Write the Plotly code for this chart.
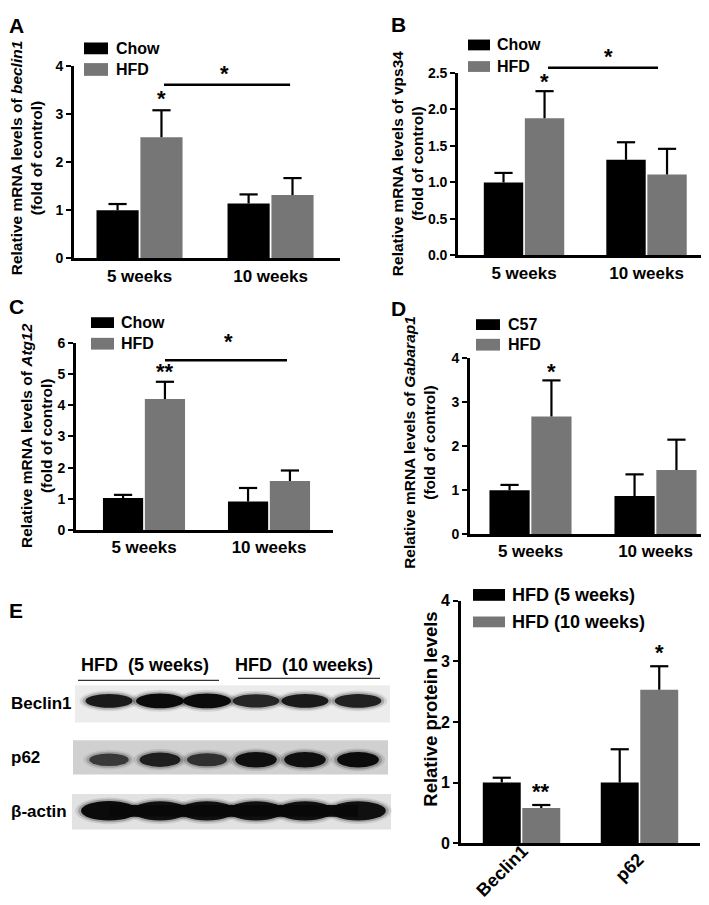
import plotly.graph_objects as go

W, H = 709, 905
FONT = "Liberation Sans, Arial, Helvetica, sans-serif"
BLACK = "#000000"
GRAY = "#767676"

# ---------------- data ----------------
time_points = ["5 weeks", "10 weeks"]
name_chow = "Chow"
name_c57 = "C57"
name_hfd = "HFD"

beclin1_chow = [1.00, 1.14]
beclin1_chow_sem = [0.13, 0.19]
beclin1_hfd = [2.52, 1.32]
beclin1_hfd_sem = [0.56, 0.35]

vps34_chow = [1.00, 1.31]
vps34_chow_sem = [0.13, 0.24]
vps34_hfd = [1.88, 1.11]
vps34_hfd_sem = [0.37, 0.35]

atg12_chow = [1.03, 0.92]
atg12_chow_sem = [0.10, 0.43]
atg12_hfd = [4.20, 1.57]
atg12_hfd_sem = [0.55, 0.34]

gabarap1_c57 = [1.00, 0.87]
gabarap1_c57_sem = [0.12, 0.49]
gabarap1_hfd = [2.68, 1.46]
gabarap1_hfd_sem = [0.82, 0.69]

proteins = ["Beclin1", "p62"]
protein_groups = ["HFD (5 weeks)", "HFD (10 weeks)"]
protein_5w = [1.00, 1.00]
protein_5w_sem = [0.08, 0.55]
protein_10w = [0.58, 2.53]
protein_10w_sem = [0.05, 0.39]

blot_rows = ["Beclin1", "p62", "β-actin"]
blot_headers = ["HFD  (5 weeks)", "HFD  (10 weeks)"]
beclin1_band = [0.85, 1.0, 1.0, 0.75, 0.85, 0.8]
p62_band = [0.5, 0.8, 0.6, 0.95, 0.95, 1.0]
actin_band = [1.0, 0.95, 0.95, 0.95, 0.95, 0.95]

# ---------------- layout geometry (pixels) ----------------
panels = {
    "A": dict(ax="", x0=66, x1=332, y0=51, y1=247, ymax=4, dtick=1, xr=(-0.5, 1.53), fmt=""),
    "B": dict(ax="2", x0=450, x1=701, y0=58, y1=244, ymax=2.5, dtick=0.5, xr=(-0.539, 1.51), fmt=".1f"),
    "C": dict(ax="3", x0=68, x1=325, y0=333, y1=524, ymax=6, dtick=1, xr=(-0.544, 1.512), fmt=""),
    "D": dict(ax="4", x0=462, x1=707, y0=349, y1=528, ymax=4, dtick=1, xr=(-0.484, 1.476), fmt=""),
    "E": dict(ax="5", x0=453, x1=692, y0=596, y1=843, ymax=4, dtick=1, xr=(-0.513, 1.513), fmt=""),
}
BARGAP, GROUPGAP = 0.33, 0.04
HFD_OFF = (1 - BARGAP) / 4   # centre offset of each bar within its group


def px(xp):
    return xp / W


def py(yp):
    return 1 - yp / H


def data2paper(p, xv, yv):
    P = panels[p]
    xpx = P["x0"] + (xv - P["xr"][0]) / (P["xr"][1] - P["xr"][0]) * (P["x1"] - P["x0"])
    ypx = P["y1"] - yv / P["ymax"] * (P["y1"] - P["y0"])
    return px(xpx), py(ypx)


fig = go.Figure()


def add_pair(p, n_cat, v1, e1, n1, v2, e2, n2):
    ax = panels[p]["ax"]
    xs = list(range(n_cat))
    for vals, errs, name, col, sgn in ((v1, e1, n1, BLACK, -1), (v2, e2, n2, GRAY, 1)):
        fig.add_trace(go.Bar(
            x=xs, y=vals, name=name, marker=dict(color=col, line=dict(width=0)),
            xaxis="x" + ax, yaxis="y" + ax, showlegend=False,
        ))
        # one-sided (upper) error bars
        lx, ly = [], []
        for i, (v, e) in enumerate(zip(vals, errs)):
            lx += [i + sgn * HFD_OFF, i + sgn * HFD_OFF, None]
            ly += [v, v + e, None]
        fig.add_trace(go.Scatter(
            x=lx, y=ly, mode="lines", line=dict(color=BLACK, width=2.2),
            xaxis="x" + ax, yaxis="y" + ax, showlegend=False, hoverinfo="skip", cliponaxis=False,
        ))
        fig.add_trace(go.Scatter(
            x=[i + sgn * HFD_OFF for i in xs], y=[v + e for v, e in zip(vals, errs)], mode="markers",
            marker=dict(symbol="line-ew", size=13, line=dict(color=BLACK, width=2.2)),
            xaxis="x" + ax, yaxis="y" + ax, showlegend=False, hoverinfo="skip", cliponaxis=False,
        ))


add_pair("A", len(time_points), beclin1_chow, beclin1_chow_sem, name_chow, beclin1_hfd, beclin1_hfd_sem, name_hfd)
add_pair("B", len(time_points), vps34_chow, vps34_chow_sem, name_chow, vps34_hfd, vps34_hfd_sem, name_hfd)
add_pair("C", len(time_points), atg12_chow, atg12_chow_sem, name_chow, atg12_hfd, atg12_hfd_sem, name_hfd)
add_pair("D", len(time_points), gabarap1_c57, gabarap1_c57_sem, name_c57, gabarap1_hfd, gabarap1_hfd_sem, name_hfd)
add_pair("E", len(proteins), protein_5w, protein_5w_sem, protein_groups[0], protein_10w, protein_10w_sem, protein_groups[1])

layout = dict(
    width=W, height=H, margin=dict(l=0, r=0, t=0, b=0),
    paper_bgcolor="white", plot_bgcolor="rgba(0,0,0,0)",
    barmode="group", bargap=BARGAP, bargroupgap=GROUPGAP,
    font=dict(family=FONT, color=BLACK),
    showlegend=False,
)

for p, P in panels.items():
    ax = P["ax"]
    cats = proteins if p == "E" else time_points
    layout["xaxis" + ax] = dict(
        domain=[px(P["x0"]), px(P["x1"])], anchor="y" + ax, range=list(P["xr"]),
        tickvals=list(range(len(cats))), ticktext=cats, showticklabels=(p != "E"),
        showline=True, linewidth=2.6, linecolor=BLACK, ticks="", showgrid=False, zeroline=False,
        tickfont=dict(size=17, family=FONT, weight="bold", color=BLACK),
        tickangle=0, fixedrange=True,
    )
    layout["yaxis" + ax] = dict(
        domain=[py(P["y1"]), py(P["y0"])], anchor="x" + ax, range=[0, P["ymax"]],
        dtick=P["dtick"], tick0=0, tickformat=P["fmt"],
        showline=True, linewidth=2.6, linecolor=BLACK, ticks="outside", ticklen=5, tickwidth=2,
        tickcolor=BLACK, showgrid=False, zeroline=False,
        tickfont=dict(size=14 if p != "E" else 16, family=FONT, weight="bold", color=BLACK),
        fixedrange=True,
    )

annotations = []
shapes = []


def text(x, y, s, size, xanchor="center", yanchor="middle", angle=0):
    annotations.append(dict(
        x=px(x), y=py(y), xref="paper", yref="paper", text=s, showarrow=False,
        xanchor=xanchor, yanchor=yanchor, textangle=angle,
        font=dict(family=FONT, size=size, weight="bold", color=BLACK),
    ))


# panel letters
for letter, (lx, ly) in {"A": (-1, 10), "B": (381, 9), "C": (-1, 296), "D": (381, 298), "E": (-1, 606)}.items():
    text(lx, ly, letter, 21, xanchor="left")

# y-axis titles
text(18, 145, "Relative mRNA levels of <i>beclin1</i><br>(fold of control)", 15.5, angle=-90)
text(399, 150, "Relative mRNA levels of vps34<br>(fold of control)", 15.5, angle=-90)
text(29, 428, "Relative mRNA levels of <i>Atg12</i><br>(fold of control)", 15.5, angle=-90)
text(412, 435, "Relative mRNA levels of <i>Gabarap1</i><br>(fold of control)", 15.5, angle=-90)
text(423, 707, "Relative protein levels", 18.5, angle=-90)

# rotated category labels of panel E (placed as text rotated by 45 degrees)
for name, (cx, cy) in zip(proteins, [(494, 871), (621, 868)]):
    text(cx, cy, name, 18, angle=-45)

# legends (boxes + labels)
legend_spec = [
    ((76, 100, 27, 39), (76, 100, 48, 61), 106, name_chow, name_hfd, 16),
    ((460, 482, 24, 35), (460, 482, 46, 57), 487, name_chow, name_hfd, 16),
    ((83, 106, 307, 318), (83, 106, 328, 340), 111, name_chow, name_hfd, 16),
    ((468, 492, 309, 320), (468, 492, 329, 341), 498, name_c57, name_hfd, 16),
    ((465, 497, 584, 596), (465, 497, 612, 623), 502, protein_groups[0], protein_groups[1], 18),
]
for b1, b2, tx, n1, n2, fs in legend_spec:
    for (bx0, bx1, by0, by1), col, nm in ((b1, BLACK, n1), (b2, GRAY, n2)):
        shapes.append(dict(type="rect", xref="paper", yref="paper", x0=px(bx0), x1=px(bx1),
                           y0=py(by1), y1=py(by0), fillcolor=col, line=dict(width=0)))
        text(tx, (by0 + by1) / 2, nm, fs, xanchor="left")


def star(p, xv, yv, s, size=22):
    xp, yp = data2paper(p, xv, yv)
    annotations.append(dict(x=xp, y=yp, xref="paper", yref="paper", text=s, showarrow=False,
                            xanchor="center", yanchor="middle", yshift=1,
                            font=dict(family=FONT, size=size, weight="bold", color=BLACK)))


def sigline(p, xa, xb, yv):
    xa_p, yp = data2paper(p, xa, yv)
    xb_p, _ = data2paper(p, xb, yv)
    shapes.append(dict(type="line", xref="paper", yref="paper", x0=xa_p, x1=xb_p, y0=yp, y1=yp,
                       line=dict(color=BLACK, width=2.6)))


star("A", HFD_OFF, 3.31, "*")
sigline("A", 0.187, 1.149, 3.61)
star("A", 0.645, 3.83, "*")

star("B", HFD_OFF, 2.37, "*")
sigline("B", 0.196, 1.094, 2.57)
star("B", 0.686, 2.71, "*")

star("C", HFD_OFF, 5.06, "**")
sigline("C", 0.168, 1.144, 5.44)
star("C", 0.672, 6.0, "*")

star("D", HFD_OFF, 3.68, "*")

star("E", HFD_OFF, 0.83, "**")
star("E", 1 + HFD_OFF, 3.13, "*")

# ---------------- western blot (panel E left) ----------------
text(137, 661, blot_headers[0], 18)
text(296, 661, blot_headers[1], 18)
shapes.append(dict(type="line", xref="paper", yref="paper", x0=px(70), x1=px(211), y0=py(677), y1=py(677),
                   line=dict(color="#333", width=1.2)))
shapes.append(dict(type="line", xref="paper", yref="paper", x0=px(230), x1=px(372), y0=py(675), y1=py(675),
                   line=dict(color="#333", width=1.2)))

lane_x = [101, 152, 199, 248, 297, 350]
strips = [
    (blot_rows[0], beclin1_band, (67, 382, 682, 720), "#ececec", 698, 48, 15),
    (blot_rows[1], p62_band, (65, 380, 738, 773), "#d0d0d0", 758, 42, 16),
    (blot_rows[2], actin_band, (64, 383, 793, 829), "#e2e2e2", 810, 56, 20),
]
for label, bands, (sx0, sx1, sy0, sy1), bg, yc, bw, bh in strips:
    shapes.append(dict(type="rect", xref="paper", yref="paper", x0=px(sx0), x1=px(sx1),
                       y0=py(sy1), y1=py(sy0), fillcolor=bg, line=dict(width=0), layer="below"))
    text(1, (sy0 + sy1) / 2, label, 17, xanchor="left")
    for xc, inten in zip(lane_x, bands):
        hh = bh * (0.6 + 0.4 * inten)
        ww = bw * (0.88 + 0.12 * inten)
        for grow, alpha in ((6, 0.10), (3, 0.22)):
            shapes.append(dict(type="circle", xref="paper", yref="paper",
                               x0=px(xc - ww / 2 - grow), x1=px(xc + ww / 2 + grow),
                               y0=py(yc + hh / 2 + grow * 0.6), y1=py(yc - hh / 2 - grow * 0.6),
                               fillcolor="rgba(0,0,0,%.2f)" % (alpha * (0.5 + 0.5 * inten)),
                               line=dict(width=0)))
        shapes.append(dict(type="circle", xref="paper", yref="paper",
                           x0=px(xc - ww / 2), x1=px(xc + ww / 2),
                           y0=py(yc + hh / 2), y1=py(yc - hh / 2),
                           fillcolor="rgba(8,8,8,%.2f)" % (0.35 + 0.63 * inten), line=dict(width=0)))
    if label == blot_rows[2]:
        # actin signal runs continuously across lanes
        shapes.append(dict(type="rect", xref="paper", yref="paper", x0=px(lane_x[0]), x1=px(lane_x[-1]),
                           y0=py(yc + 6), y1=py(yc - 6), fillcolor="rgba(8,8,8,0.95)", line=dict(width=0)))

layout["annotations"] = annotations
layout["shapes"] = shapes
fig.update_layout(**layout)

fig.write_html("out.html")
